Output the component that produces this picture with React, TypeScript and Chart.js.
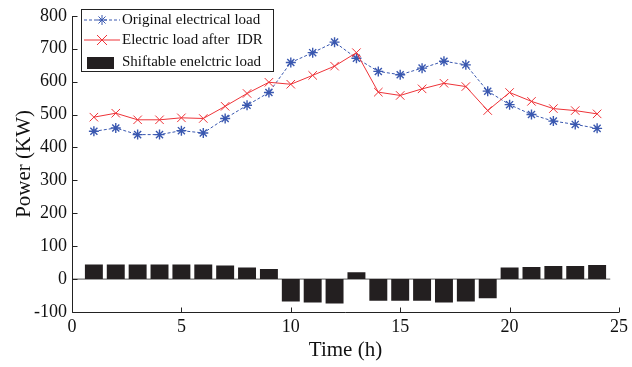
import React, { useEffect, useRef } from "react";
import { Chart, registerables } from "chart.js";

Chart.register(...registerables);

const hours = [1, 2, 3, 4, 5, 6, 7, 8, 9, 10, 11, 12, 13, 14, 15, 16, 17, 18, 19, 20, 21, 22, 23, 24];
const originalLoad = [449, 459, 439, 439, 451, 444, 488, 528, 567, 658, 688, 720, 671, 631, 621, 641, 662, 651, 571, 530, 500, 480, 470, 458];
const loadAfterIDR = [492, 504, 484, 484, 490, 488, 525, 564, 598, 592, 619, 647, 688, 568, 558, 578, 595, 585, 512, 567, 540, 518, 512, 502];
const shiftableLoad = [44, 44, 44, 44, 44, 44, 41, 35, 31, -68, -71, -74, 21, -66, -66, -66, -71, -68, -58, 35, 37, 40, 40, 43];
const baselineX = [0, 24.6];
const xTicks = [0, 5, 10, 15, 20, 25];
const yTicks = [-100, 0, 100, 200, 300, 400, 500, 600, 700, 800];
const legendLabels = ["Original electrical load", "Electric load after  IDR", "Shiftable enelctric load"];

const BLUE = "#3a58b0";
const RED = "#ee3338";
const BAR = "#231f20";
const FONT = '"Liberation Serif", serif';

Chart.defaults.font.family = FONT;

const axesPlugin = {
  id: "matlabAxes",
  afterDatasetsDraw(chart: any) {
    const { ctx, chartArea, scales } = chart;
    const x = scales.x;
    const y = scales.y;
    ctx.save();
    ctx.strokeStyle = "#222";
    ctx.lineWidth = 1;
    ctx.beginPath();
    const left = Math.round(chartArea.left) + 0.5;
    const bottom = Math.round(chartArea.bottom) + 0.5;
    ctx.moveTo(left, Math.round(chartArea.top));
    ctx.lineTo(left, bottom);
    ctx.lineTo(Math.round(chartArea.right), bottom);
    for (const v of yTicks) {
      const py = Math.round(y.getPixelForValue(v)) + 0.5;
      ctx.moveTo(left, py);
      ctx.lineTo(left + 5, py);
    }
    for (const v of xTicks) {
      const px = Math.round(x.getPixelForValue(v)) + 0.5;
      ctx.moveTo(px, bottom);
      ctx.lineTo(px, bottom - 5);
    }
    ctx.stroke();

    // legend
    const bx = 81, by = 9, bw = 192, bh = 62;
    ctx.fillStyle = "#fff";
    ctx.fillRect(bx, by, bw, bh);
    ctx.strokeStyle = "#222";
    ctx.strokeRect(bx + 0.5, by + 0.5, bw, bh);
    ctx.font = "15px " + FONT;
    ctx.textBaseline = "middle";
    ctx.textAlign = "left";
    const rows = [20, 40, 62];
    ctx.strokeStyle = BLUE;
    ctx.lineWidth = 1;
    ctx.setLineDash([3, 2]);
    ctx.beginPath();
    ctx.moveTo(84, rows[0]);
    ctx.lineTo(120, rows[0]);
    ctx.stroke();
    ctx.setLineDash([]);
    ctx.beginPath();
    const cx = 102, r = 5;
    ctx.moveTo(cx - r, rows[0]); ctx.lineTo(cx + r, rows[0]);
    ctx.moveTo(cx, rows[0] - r); ctx.lineTo(cx, rows[0] + r);
    const d = r * 0.707;
    ctx.moveTo(cx - d, rows[0] - d); ctx.lineTo(cx + d, rows[0] + d);
    ctx.moveTo(cx - d, rows[0] + d); ctx.lineTo(cx + d, rows[0] - d);
    ctx.stroke();
    ctx.strokeStyle = RED;
    ctx.beginPath();
    ctx.moveTo(84, rows[1]);
    ctx.lineTo(120, rows[1]);
    ctx.moveTo(cx - 5, rows[1] - 5); ctx.lineTo(cx + 5, rows[1] + 5);
    ctx.moveTo(cx - 5, rows[1] + 5); ctx.lineTo(cx + 5, rows[1] - 5);
    ctx.stroke();
    ctx.fillStyle = BAR;
    ctx.fillRect(87, 57, 27, 12);
    ctx.fillStyle = "#111";
    ctx.fillText(legendLabels[0], 122, rows[0]);
    ctx.fillText(legendLabels[1], 122, rows[1]);
    ctx.fillText(legendLabels[2], 122, rows[2]);
    ctx.restore();
  },
};

export default function App() {
  const ref = useRef<HTMLCanvasElement>(null);
  useEffect(() => {
    document.body.style.margin = "0";
    const chart = new Chart(ref.current as HTMLCanvasElement, {
      type: "bar",
      data: {
        datasets: [
          {
            type: "line",
            label: "baseline",
            data: baselineX.map((v) => ({ x: v, y: 0 })),
            borderColor: "#555",
            borderWidth: 1,
            pointRadius: 0,
            order: 3,
          },
          {
            type: "bar",
            label: legendLabels[2],
            data: hours.map((h, i) => ({ x: h, y: shiftableLoad[i] })),
            backgroundColor: BAR,
            borderWidth: 0,
            barPercentage: 1,
            categoryPercentage: 0.82,
            order: 2,
          },
          {
            type: "line",
            label: legendLabels[0],
            data: hours.map((h, i) => ({ x: h, y: originalLoad[i] })),
            borderColor: BLUE,
            borderWidth: 1,
            borderDash: [3, 2],
            pointStyle: "star",
            pointRadius: 5,
            pointBorderColor: BLUE,
            pointBorderWidth: 1.4,
            pointBackgroundColor: BLUE,
            order: 1,
          },
          {
            type: "line",
            label: legendLabels[1],
            data: hours.map((h, i) => ({ x: h, y: loadAfterIDR[i] })),
            borderColor: RED,
            borderWidth: 1,
            pointStyle: "crossRot",
            pointRadius: 6,
            pointBorderColor: RED,
            pointBorderWidth: 1,
            order: 0,
          },
        ],
      },
      options: {
        animation: false,
        responsive: false,
        maintainAspectRatio: false,
        layout: { padding: { left: 0, right: 10, top: 15, bottom: 0 } },
        plugins: { legend: { display: false }, tooltip: { enabled: false } },
        scales: {
          x: {
            type: "linear",
            min: 0,
            max: 25,
            offset: false,
            grid: { display: false, drawTicks: false },
            border: { display: false },
            afterBuildTicks: (s: any) => {
              s.ticks = xTicks.map((v) => ({ value: v }));
            },
            afterFit: (s: any) => {
              s.height = 55;
            },
            ticks: { color: "#111", font: { family: FONT, size: 18 }, padding: 4, maxRotation: 0 },
            title: { display: true, text: "Time (h)", color: "#111", font: { family: FONT, size: 21 }, padding: { top: 0 } },
          },
          y: {
            min: -100,
            max: 800,
            grid: { display: false, drawTicks: false },
            border: { display: false },
            afterBuildTicks: (s: any) => {
              s.ticks = yTicks.map((v) => ({ value: v }));
            },
            afterFit: (s: any) => {
              s.width = 72;
            },
            ticks: { color: "#111", font: { family: FONT, size: 18 }, padding: 5 },
            title: { display: true, text: "Power (KW)", color: "#111", font: { family: FONT, size: 21 }, padding: { top: 12, bottom: 4 } },
          },
        },
      },
      plugins: [axesPlugin],
    } as any);
    return () => chart.destroy();
  }, []);
  return (
    <div style={{ width: 632, height: 367 }}>
      <canvas ref={ref} width={632} height={367} style={{ width: 632, height: 367 }} />
    </div>
  );
}
